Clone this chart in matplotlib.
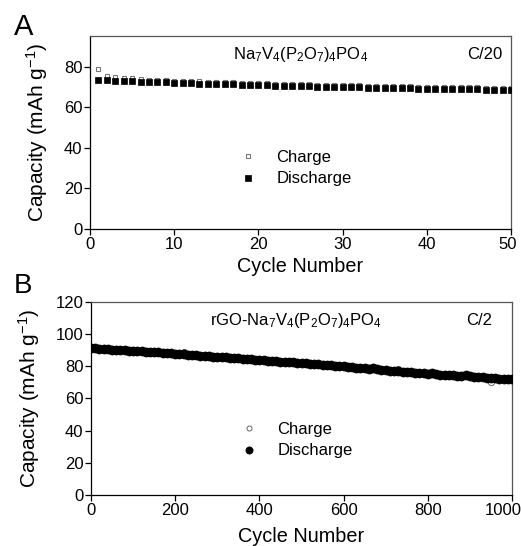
import matplotlib
matplotlib.use('Agg')
import matplotlib.pyplot as plt
import matplotlib.transforms as mtransforms

plt.rcParams['font.family'] = ['Liberation Sans', 'DejaVu Sans']
plt.rcParams['mathtext.default'] = 'regular'

# 图 A: Na7V4(P2O7)4PO4, C/20, 50 圈
cycles_a = list(range(1, 51))
charge_a = [78.6, 75.1, 74.6, 74.3, 74.1, 73.9, 73.6, 73.4, 73.3, 73.1,
            73.0, 72.9, 72.7, 72.6, 72.4, 72.3, 72.2, 72.1, 71.9, 71.8,
            71.7, 71.6, 71.5, 71.4, 71.3, 71.2, 71.1, 71.0, 70.9, 70.8,
            70.8, 70.7, 70.6, 70.5, 70.4, 70.4, 70.3, 70.2, 70.1, 70.1,
            70.0, 69.9, 69.9, 69.8, 69.7, 69.7, 69.6, 69.6, 69.5, 69.4]
discharge_a = [73.6, 73.3, 73.1, 72.9, 72.8, 72.6, 72.4, 72.3, 72.2, 72.0,
               71.9, 71.8, 71.6, 71.5, 71.4, 71.3, 71.2, 71.0, 70.9, 70.8,
               70.7, 70.6, 70.5, 70.4, 70.3, 70.2, 70.1, 70.0, 69.9, 69.8,
               69.8, 69.7, 69.6, 69.5, 69.4, 69.4, 69.3, 69.2, 69.1, 69.1,
               69.0, 68.9, 68.9, 68.8, 68.7, 68.7, 68.6, 68.6, 68.5, 68.4]

# 图 B: rGO-Na7V4(P2O7)4PO4, C/2, 1000 圈 (每 10 圈读一个点)
cycles_b = [1] + list(range(10, 1001, 10))
discharge_b = [91.6, 91.3, 91.0, 90.8, 90.6, 90.4, 90.3, 90.1, 89.9, 89.8,
               89.6, 89.4, 89.3, 89.1, 88.9, 88.8, 88.6, 88.4, 88.2, 88.1,
               87.9, 87.7, 87.5, 87.3, 87.1, 86.9, 86.7, 86.5, 86.3, 86.1,
               85.9, 85.7, 85.5, 85.3, 85.1, 84.9, 84.7, 84.6, 84.4, 84.2,
               84.0, 83.8, 83.6, 83.4, 83.2, 83.0, 82.8, 82.6, 82.4, 82.2,
               82.0, 81.8, 81.6, 81.4, 81.2, 81.0, 80.8, 80.6, 80.4, 80.2,
               80.0, 79.7, 79.5, 79.2, 79.0, 78.7, 78.6, 79.0, 78.2, 77.9,
               77.6, 77.4, 77.1, 76.9, 76.7, 76.4, 76.3, 76.0, 75.8, 75.6,
               75.4, 75.8, 75.1, 74.9, 74.7, 74.5, 74.3, 74.2, 74.0, 74.4,
               73.7, 73.5, 73.3, 73.1, 72.9, 72.8, 72.6, 72.4, 72.3, 72.1,
               71.9]
charge_b = [91.9, 91.6, 91.3, 91.1, 90.9, 90.7, 90.6, 90.4, 90.2, 90.1,
            89.9, 89.7, 89.6, 89.4, 89.2, 89.1, 88.9, 88.7, 88.5, 88.4,
            88.2, 88.0, 88.9, 87.6, 87.4, 87.2, 87.0, 86.8, 86.6, 86.4,
            86.2, 86.0, 85.8, 85.6, 85.4, 85.2, 85.0, 84.9, 84.7, 84.5,
            84.3, 84.1, 83.9, 83.7, 83.5, 83.3, 83.1, 82.9, 82.7, 82.5,
            82.3, 82.1, 81.9, 81.7, 81.5, 81.3, 81.1, 80.9, 80.7, 80.5,
            80.3, 80.0, 79.8, 79.5, 79.3, 79.0, 78.9, 79.3, 78.5, 78.2,
            77.9, 77.7, 77.4, 78.5, 77.0, 76.7, 76.6, 76.3, 76.1, 75.9,
            75.7, 76.1, 75.4, 75.2, 75.0, 74.8, 74.6, 74.5, 74.3, 74.7,
            74.0, 73.8, 73.6, 73.4, 73.2, 70.3, 72.9, 72.7, 72.6, 72.4,
            72.2]

fig = plt.figure(figsize=(5.21, 5.46), dpi=100)
ax1 = fig.add_axes([0.1727, 0.5806, 0.8083, 0.3534])
ax2 = fig.add_axes([0.1747, 0.0934, 0.8080, 0.3535])


def style_axes(ax, xpad):
    for s in ['top', 'right']:
        ax.spines[s].set_color('#555555')
        ax.spines[s].set_linewidth(0.9)
    for s in ['left', 'bottom']:
        ax.spines[s].set_color('black')
        ax.spines[s].set_linewidth(0.9)
    ax.tick_params(direction='out', length=4, width=0.9, labelsize=12,
                   top=False, right=False, pad=1.5)
    ax.set_xlabel('Cycle Number', fontsize=14.3, labelpad=xpad)
    ax.set_ylabel('Capacity (mAh g$^{-1}$)', fontsize=15, labelpad=10)


def shift_last_xlabel(ax, dx_px):
    fig.canvas.draw()
    lab = ax.get_xticklabels()[-1]
    off = mtransforms.ScaledTranslation(dx_px / 100, 0, fig.dpi_scale_trans)
    lab.set_transform(lab.get_transform() + off)


# 图 A
ax1.plot(cycles_a, charge_a, ls='none', marker='s', ms=3.4, mfc='white',
         mec='#777777', mew=0.8, label='Charge', zorder=2)
ax1.plot(cycles_a, discharge_a, ls='none', marker='s', ms=3.8, mfc='black',
         mec='black', mew=0.5, label='Discharge', zorder=3)
ax1.set_xlim(0, 50)
ax1.set_ylim(0, 95)
ax1.set_xticks([0, 10, 20, 30, 40, 50])
ax1.set_yticks([0, 20, 40, 60, 80])
style_axes(ax1, 4)
ax1.text(0.499, 0.881, 'Na$_7$V$_4$(P$_2$O$_7$)$_4$PO$_4$', transform=ax1.transAxes,
         ha='center', va='baseline', fontsize=12)
ax1.text(0.979, 0.881, 'C/20', transform=ax1.transAxes,
         ha='right', va='baseline', fontsize=12)
ax1.legend(loc='upper left', bbox_to_anchor=(0.356, 0.409), frameon=False,
           fontsize=12, handlelength=1.0, handletextpad=1.2, labelspacing=0.38,
           borderpad=0, borderaxespad=0)

# 图 B
ax2.plot(cycles_b, charge_b, ls='none', marker='o', ms=4.5, mfc='white',
         mec='#666666', mew=0.7, label='Charge', zorder=2)
ax2.plot(cycles_b, discharge_b, ls='none', marker='o', ms=6.5, mfc='black',
         mec='black', mew=0.5, label='Discharge', zorder=3)
ax2.set_xlim(0, 1000)
ax2.set_ylim(0, 120)
ax2.set_xticks([0, 200, 400, 600, 800, 1000])
ax2.set_yticks([0, 20, 40, 60, 80, 100, 120])
style_axes(ax2, 7)
ax2.text(0.487, 0.881, 'rGO-Na$_7$V$_4$(P$_2$O$_7$)$_4$PO$_4$', transform=ax2.transAxes,
         ha='center', va='baseline', fontsize=12)
ax2.text(0.952, 0.881, 'C/2', transform=ax2.transAxes,
         ha='right', va='baseline', fontsize=12)
ax2.legend(loc='upper left', bbox_to_anchor=(0.356, 0.378), frameon=False,
           fontsize=12, handlelength=1.0, handletextpad=1.2, labelspacing=0.38,
           borderpad=0, borderaxespad=0, markerscale=0.8)

# 面板字母
fig.text(14 / 521, 1 - 35 / 546, 'A', fontsize=21, va='baseline')
fig.text(14 / 521, 1 - 293 / 546, 'B', fontsize=20, va='baseline')

shift_last_xlabel(ax1, -3)
shift_last_xlabel(ax2, -9)

fig.savefig('out.png', dpi=100)
